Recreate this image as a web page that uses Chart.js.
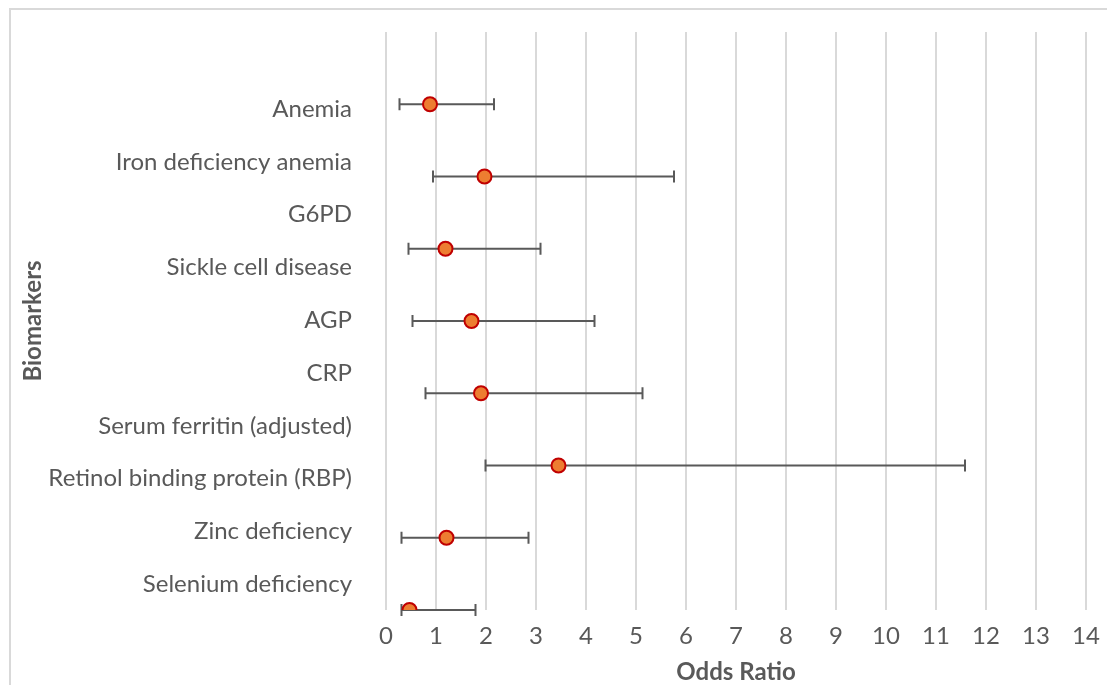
<!DOCTYPE html>
<html>
<head>
<meta charset="utf-8">
<script src="https://cdn.jsdelivr.net/npm/chart.js@4"></script>
<style>
  html, body { margin: 0; padding: 0; background: #fff; }
  #wrap { position: relative; width: 1107px; height: 685px; }
</style>
</head>
<body>
<div id="wrap"><canvas id="myChart" width="1107" height="685"></canvas></div>
<script>
// biomarker names shown down the left side
var biomarkers = ['Anemia', 'Iron deficiency anemia', 'G6PD', 'Sickle cell disease', 'AGP', 'CRP',
  'Serum ferritin (adjusted)', 'Retinol binding protein (RBP)', 'Zinc deficiency', 'Selenium deficiency'];

// the plotted rows (y value of each marker) with odds ratio and 95% CI
var rowY = [7, 6, 5, 4, 3, 2, 1, 0];
var oddsRatio = [0.88, 1.97, 1.19, 1.71, 1.90, 3.45, 1.21, 0.47];
var ciLow = [0.27, 0.94, 0.45, 0.53, 0.79, 1.99, 0.31, 0.31];
var ciHigh = [2.16, 5.76, 3.09, 4.17, 5.13, 11.58, 2.85, 1.79];

var xTicks = [0, 1, 2, 3, 4, 5, 6, 7, 8, 9, 10, 11, 12, 13, 14];

var grey = '#595959';
var font = 'Lato, "Open Sans", sans-serif';

var points = rowY.map(function (y, i) {
  return { x: oddsRatio[i], y: y, lo: ciLow[i], hi: ciHigh[i] };
});

// whiskers for the confidence intervals
var errorBars = {
  id: 'errorBars',
  beforeDatasetsDraw: function (chart) {
    var ctx = chart.ctx;
    var xs = chart.scales.x, ys = chart.scales.y;
    ctx.save();
    ctx.strokeStyle = grey;
    ctx.lineWidth = 2;
    points.forEach(function (p) {
      var y = ys.getPixelForValue(p.y);
      var x1 = xs.getPixelForValue(p.lo);
      var x2 = xs.getPixelForValue(p.hi);
      ctx.beginPath();
      ctx.moveTo(x1, y); ctx.lineTo(x2, y);
      ctx.moveTo(x1, y - 6); ctx.lineTo(x1, y + 6);
      ctx.moveTo(x2, y - 6); ctx.lineTo(x2, y + 6);
      ctx.stroke();
    });
    ctx.restore();
  }
};

// light frame round the whole chart
var frame = {
  id: 'frame',
  beforeDraw: function (chart) {
    var ctx = chart.ctx;
    ctx.save();
    ctx.strokeStyle = '#d9d9d9';
    ctx.lineWidth = 2;
    ctx.strokeRect(10, 9, 1110, 700);
    ctx.restore();
  }
};

var ctx = document.getElementById('myChart').getContext('2d');
var chart = new Chart(ctx, {
  type: 'scatter',
  data: {
    datasets: [{
      data: points,
      backgroundColor: '#ED7D31',
      borderColor: '#C00000',
      borderWidth: 2,
      pointRadius: 7,
      pointHoverRadius: 7
    }]
  },
  options: {
    responsive: false,
    animation: false,
    layout: { padding: { top: 32, right: 21, left: 0, bottom: 0 } },
    plugins: { legend: { display: false }, tooltip: { enabled: false } },
    scales: {
      x: {
        type: 'linear',
        min: 0, max: 14,
        afterBuildTicks: function (axis) {
          axis.ticks = xTicks.map(function (v) { return { value: v }; });
        },
        afterFit: function (axis) {
          axis.height = 75;
          axis.paddingLeft = 0; axis.paddingRight = 0;
        },
        grid: { color: '#d9d9d9', lineWidth: 2, drawTicks: false },
        border: { display: false },
        ticks: { color: grey, font: { family: font, size: 24 }, padding: 12, maxRotation: 0 },
        title: { display: true, text: 'Odds Ratio', color: grey, font: { family: font, size: 24, weight: 'bold', lineHeight: 1.1 }, padding: { top: 0, bottom: 0 } }
      },
      y: {
        type: 'linear',
        min: 0, max: 8,
        display: false
      },
      labels: {
        type: 'linear',
        position: 'left',
        reverse: true,
        min: -1.46, max: 9.49,
        afterBuildTicks: function (axis) {
          axis.ticks = biomarkers.map(function (b, i) { return { value: i }; });
        },
        afterFit: function (axis) {
          axis.width = 386;
          axis.paddingTop = 0; axis.paddingBottom = 0;
        },
        grid: { display: false, drawTicks: false },
        border: { display: false },
        ticks: {
          color: grey, font: { family: font, size: 24 }, padding: 34,
          callback: function (v) { return biomarkers[v]; }
        },
        title: { display: true, text: 'Biomarkers', color: grey, font: { family: font, size: 24, weight: 'bold' }, padding: { top: 19, bottom: 0 } }
      }
    }
  },
  plugins: [errorBars, frame]
});
</script>
</body>
</html>
